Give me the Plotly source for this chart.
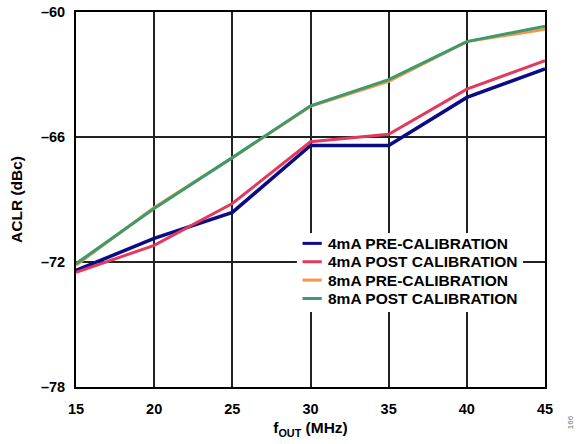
import plotly.graph_objects as go

freq_mhz = [15, 20, 25, 30, 35, 40, 45]
pre_4ma = [-72.40, -70.87, -69.62, -66.41, -66.41, -64.10, -62.73]
post_4ma = [-72.50, -71.20, -69.19, -66.23, -65.87, -63.70, -62.34]
pre_8ma = [-72.16, -69.38, -67.00, -64.53, -63.33, -61.42, -60.83]
post_8ma = [-72.08, -69.43, -66.99, -64.50, -63.25, -61.42, -60.68]

series_names = ["4mA PRE-CALIBRATION", "4mA POST CALIBRATION",
                "8mA PRE-CALIBRATION", "8mA POST CALIBRATION"]
series_values = [pre_4ma, post_4ma, pre_8ma, post_8ma]
colors = ["#0b0b86", "#e23a5c", "#f8954a", "#3c9a6c"]
widths = [3.5, 3, 3, 3]

x_ticks = [15, 20, 25, 30, 35, 40, 45]
y_ticks = [-78, -72, -66, -60]
y_tick_labels = ["\u201378", "\u201372", "\u201366", "\u201360"]

font_family = "Liberation Sans, Arial, sans-serif"
tick_font = dict(size=14.5, family=font_family, weight="bold", color="black")

fig = go.Figure()
for name, vals, c, w in zip(series_names, series_values, colors, widths):
    fig.add_trace(go.Scatter(x=freq_mhz, y=vals, mode="lines", name=name,
                             line=dict(color=c, width=w), showlegend=False))

fig.update_layout(
    width=580, height=444,
    margin=dict(l=76, r=35, t=12, b=57, autoexpand=False),
    paper_bgcolor="white", plot_bgcolor="white",
    font=dict(family=font_family, color="black"),
    showlegend=False,
)
fig.update_xaxes(range=[15, 45], tickvals=x_ticks, ticktext=[str(t) for t in x_ticks],
                 showgrid=True, gridcolor="#222222", gridwidth=1.5,
                 showline=True, linecolor="black", linewidth=2, mirror=True,
                 ticks="", zeroline=False, automargin=False,
                 tickfont=tick_font, ticklabelstandoff=8,
                 title=dict(text="f<sub>OUT</sub> (MHz)", standoff=6,
                            font=dict(size=15.5, family=font_family, weight="bold")))
fig.update_yaxes(range=[-78, -60], tickvals=y_ticks, ticktext=y_tick_labels,
                 showgrid=True, gridcolor="#222222", gridwidth=1.5,
                 showline=True, linecolor="black", linewidth=2, mirror=True,
                 ticks="", zeroline=False, automargin=False,
                 tickfont=tick_font, ticklabelstandoff=6,
                 title=dict(text="ACLR (dBc)", standoff=14,
                            font=dict(size=15.5, family=font_family, weight="bold")))

# legend box (white, hides the grid behind it)
fig.add_shape(type="rect", xref="paper", yref="paper", x0=0.471, x1=0.953,
              y0=0.20, y1=0.411, fillcolor="white", line=dict(width=0),
              layer="above")
legend_rows_y = [0.383, 0.334, 0.285, 0.236]
for name, c, ly in zip(series_names, colors, legend_rows_y):
    fig.add_shape(type="line", xref="paper", yref="paper", x0=0.483, x1=0.524,
                  y0=ly, y1=ly, line=dict(color=c, width=3), layer="above")
    fig.add_annotation(text=name, xref="paper", yref="paper", x=0.533, y=ly,
                       xanchor="left", yanchor="middle", showarrow=False,
                       font=dict(size=15.5, family=font_family, weight="bold",
                                 color="black"))

fig.add_annotation(text="166", xref="paper", yref="paper", x=1.068, y=-0.117,
                   showarrow=False, textangle=-90,
                   font=dict(size=8, color="#777777", family=font_family))

fig.write_html("out.html", config={"displayModeBar": False},
               post_script="document.body.style.margin='0';")
